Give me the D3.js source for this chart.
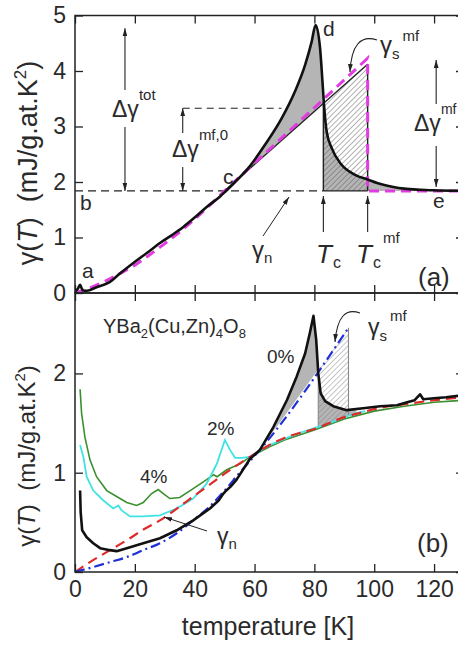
<!DOCTYPE html>
<html>
<head>
<meta charset="utf-8">
<script src="https://cdn.jsdelivr.net/npm/d3@7"></script>
<style>
body { margin: 0; background: #fff; }
text { font-family: Arial, "Liberation Sans", sans-serif; fill: #2a2a2a; }
</style>
</head>
<body>
<svg id="chart" width="458" height="645"></svg>
<script>
// ---- panel (a): schematic, measured gamma(T) of the 0% sample
var tA = [0, 1, 1.7, 2.5, 4, 7, 11.7, 15, 19.5, 24, 28.4, 32, 36.2, 40, 44, 48.5, 50.1, 53.5, 57.9, 63.5, 69.1, 73.5, 76.9, 79.1, 80.4, 81.9, 82.7, 83.3, 84.1, 85.8, 89.1, 93.6, 98, 101, 106.4, 110, 115.3, 120, 130];
var gA = [0.02, 0.08, 0.15, 0.05, 0.04, 0.1, 0.2, 0.35, 0.54, 0.72, 0.9, 1.03, 1.19, 1.36, 1.55, 1.74, 1.82, 2.0, 2.25, 2.67, 3.15, 3.63, 4.11, 4.53, 4.83, 4.41, 3.81, 3.33, 2.91, 2.61, 2.31, 2.13, 2.04, 1.98, 1.91, 1.88, 1.86, 1.85, 1.84];
// mean-field curve (magenta dashes)
var tPink = [0, 5, 10, 15, 20, 25, 30, 35, 40, 45, 50, 97.8, 97.8, 130];
var gPink = [0, 0.09, 0.21, 0.35, 0.5, 0.69, 0.89, 1.1, 1.33, 1.58, 1.84, 4.23, 1.84, 1.84];
// straight line from c to the mean-field jump
var tLine = [50, 97.8];
var gLine = [1.84, 4.12];
var gBase = 1.84, tcA = 83.0, tcMfA = 97.8;
var gTot = 4.77, gMf0 = 3.33, gMfTop = 4.2;

// ---- panel (b): YBa2(Cu,Zn)4O8
var t0 = [1.7, 1.9, 2.4, 3.9, 6.1, 8.4, 11.7, 13.9, 17.3, 22.8, 28.4, 34, 39.5, 45.1, 48, 49.6, 50.2, 52, 54, 58.5, 61.8, 66.3, 70.8, 74.1, 76.9, 78.5, 79.7, 80.6, 81.3, 82.1, 83.6, 86.3, 90.8, 96.3, 102, 107.6, 111, 113.5, 115.3, 116.4, 120, 124, 130];
var g0 = [0.82, 0.6, 0.42, 0.35, 0.29, 0.24, 0.22, 0.21, 0.24, 0.29, 0.34, 0.42, 0.52, 0.64, 0.72, 0.79, 0.81, 0.86, 0.93, 1.14, 1.23, 1.46, 1.73, 1.97, 2.2, 2.41, 2.58, 2.34, 2.0, 1.8, 1.72, 1.67, 1.63, 1.65, 1.67, 1.68, 1.71, 1.73, 1.79, 1.74, 1.75, 1.76, 1.78];
var t2 = [1.7, 2.8, 3.9, 6.1, 9.5, 12.8, 14.5, 15.6, 18.4, 22.8, 28.4, 34, 39.5, 44, 47.4, 50.1, 51.8, 53.5, 55.7, 58.5, 62, 66, 70, 74, 78, 82, 86, 90, 94, 97];
var g2 = [1.28, 1.16, 0.96, 0.82, 0.72, 0.64, 0.67, 0.62, 0.56, 0.56, 0.57, 0.64, 0.74, 0.89, 1.09, 1.33, 1.23, 1.15, 1.15, 1.16, 1.23, 1.29, 1.34, 1.39, 1.43, 1.47, 1.51, 1.56, 1.6, 1.62];
var t4 = [1.7, 2.2, 3.3, 5, 7.2, 10.6, 13.9, 17.3, 20.6, 22.8, 25.6, 27.8, 29.5, 31.7, 35, 39.5, 44, 46.3, 47.5, 50.7, 55.2, 58.5, 65, 70, 80, 90, 100, 110, 120, 130];
var g4 = [1.84, 1.6, 1.36, 1.13, 0.96, 0.82, 0.76, 0.7, 0.67, 0.7, 0.79, 0.83, 0.79, 0.74, 0.75, 0.84, 0.93, 0.98, 0.96, 1.03, 1.09, 1.16, 1.26, 1.33, 1.43, 1.54, 1.62, 1.67, 1.71, 1.73];
var tRed = [0, 5, 10, 17.3, 23, 29.5, 35, 39.5, 45, 50, 58.5, 65, 70, 75, 80, 85, 90, 95, 100, 105, 110, 120, 130];
var gRed = [0, 0.1, 0.19, 0.32, 0.43, 0.54, 0.66, 0.76, 0.88, 0.99, 1.16, 1.28, 1.35, 1.4, 1.44, 1.5, 1.56, 1.6, 1.64, 1.67, 1.69, 1.73, 1.76];
var tBlue = [0, 6.1, 11.7, 17.3, 22.8, 28.4, 34, 39.5, 45, 50, 55, 61.8, 91.4];
var gBlue = [0, 0.05, 0.1, 0.15, 0.22, 0.29, 0.39, 0.52, 0.66, 0.82, 1.0, 1.23, 2.46];
var tcB = 81.3, tcMfB = 91.4;

var xTicks = [0, 20, 40, 60, 80, 100, 120];
var yTicksA = [0, 1, 2, 3, 4, 5];
var yTicksB = [0, 1, 2];

// ---- scales
var x = d3.scaleLinear().domain([0, 130]).range([75, 464]);
var yA = d3.scaleLinear().domain([0, 5]).range([293, 15.5]);
var yB = d3.scaleLinear().domain([0, 2.81]).range([572, 293]);

function interp(ts, gs, t) {
  for (var i = 1; i < ts.length; i++) {
    if (t <= ts[i]) {
      var f = (t - ts[i - 1]) / (ts[i] - ts[i - 1]);
      return gs[i - 1] + f * (gs[i] - gs[i - 1]);
    }
  }
  return gs[gs.length - 1];
}
function steps(a, b) {
  var r = [];
  for (var t = a; t < b; t += 0.1) r.push(t);
  r.push(b);
  return r;
}
function pairs(ts, gs) { return ts.map(function(t, i) { return [t, gs[i]]; }); }

var svg = d3.select("#chart");
var defs = svg.append("defs");
defs.append("marker").attr("id", "arr")
  .attr("viewBox", "0 0 10 6").attr("refX", 10).attr("refY", 3)
  .attr("markerWidth", 8).attr("markerHeight", 5).attr("markerUnits", "userSpaceOnUse")
  .attr("orient", "auto-start-reverse")
  .append("path").attr("d", "M0,0 L10,3 L0,6 z").attr("fill", "#222");
[["hatchA", "#555"], ["hatchB", "#808080"]].forEach(function(h) {
  defs.append("pattern").attr("id", h[0]).attr("patternUnits", "userSpaceOnUse")
    .attr("width", 3.8).attr("height", 3.8).attr("patternTransform", "rotate(45)")
    .append("line").attr("x1", 0).attr("y1", 0).attr("x2", 0).attr("y2", 3.8)
    .attr("stroke", h[1]).attr("stroke-width", 0.9);
});
defs.append("clipPath").attr("id", "clipA").append("rect")
  .attr("x", 75).attr("y", 15.5).attr("width", 389).attr("height", 277.5);
defs.append("clipPath").attr("id", "clipB").append("rect")
  .attr("x", 75).attr("y", 293).attr("width", 389).attr("height", 279);

function label(g, px, py, size, parts) {
  var t = g.append("text").attr("x", px).attr("y", py).style("font-size", size + "px");
  parts.forEach(function(p) {
    var s = t.append("tspan").text(p.t);
    if (p.dy) s.attr("dy", p.dy);
    if (p.dx) s.attr("dx", p.dx);
    if (p.fs) s.style("font-size", p.fs + "px");
    if (p.it) s.style("font-style", "italic");
  });
  return t;
}
function arrow(g, x1, y1, x2, y2, w) {
  return g.append("line").attr("x1", x1).attr("y1", y1).attr("x2", x2).attr("y2", y2)
    .attr("stroke", "#222").attr("stroke-width", w || 1.1).attr("marker-end", "url(#arr)");
}

// ================= panel (a) =================
var ga = svg.append("g").attr("clip-path", "url(#clipA)");
var lineFn = function(y) {
  return d3.line().x(function(d) { return x(d[0]); }).y(function(d) { return y(d[1]); });
};
var straight = function(t) { return interp(tLine, gLine, t); };
var blackA = function(t) { return interp(tA, gA, t); };

// grey areas between measured curve and reference
ga.append("path")
  .datum(steps(tLine[0], tcA))
  .attr("fill", "#b5b5b5")
  .attr("d", d3.area().x(function(t) { return x(t); })
    .y0(function(t) { return yA(straight(t)); })
    .y1(function(t) { return yA(Math.max(blackA(t), straight(t))); }));
ga.append("path")
  .datum(steps(tcA, 116))
  .attr("fill", "#b5b5b5")
  .attr("d", d3.area().x(function(t) { return x(t); })
    .y0(yA(gBase)).y1(function(t) { return yA(Math.min(blackA(t), straight(t))); }));
// hatched mean-field jump
ga.append("path")
  .datum(steps(tcA, tcMfA))
  .attr("fill", "url(#hatchA)")
  .attr("d", d3.area().x(function(t) { return x(t); })
    .y0(yA(gBase)).y1(function(t) { return yA(straight(t)); }));

// dashed baseline and Delta gamma mf,0 level
ga.append("line").attr("x1", x(0)).attr("x2", x(tcA)).attr("y1", yA(gBase)).attr("y2", yA(gBase))
  .attr("stroke", "#222").attr("stroke-width", 1.3).attr("stroke-dasharray", "8,5");
ga.append("line").attr("x1", x(tcA)).attr("x2", x(tcMfA)).attr("y1", yA(gBase)).attr("y2", yA(gBase))
  .attr("stroke", "#222").attr("stroke-width", 1.4);
ga.append("line").attr("x1", x(36)).attr("x2", x(69)).attr("y1", yA(gMf0)).attr("y2", yA(gMf0))
  .attr("stroke", "#222").attr("stroke-width", 1.1).attr("stroke-dasharray", "7,5");
// straight line and verticals
ga.append("path").datum(pairs(tLine, gLine)).attr("fill", "none")
  .attr("stroke", "#222").attr("stroke-width", 1.4).attr("d", lineFn(yA));
ga.append("line").attr("x1", x(tcA)).attr("x2", x(tcA)).attr("y1", yA(gBase)).attr("y2", yA(straight(tcA)))
  .attr("stroke", "#222").attr("stroke-width", 1.4);
ga.append("line").attr("x1", x(tcMfA)).attr("x2", x(tcMfA)).attr("y1", yA(gBase)).attr("y2", yA(straight(tcMfA)))
  .attr("stroke", "#222").attr("stroke-width", 1.4);
// magenta mean-field curve
ga.append("path").datum(pairs(tPink, gPink)).attr("fill", "none")
  .attr("stroke", "#e23be2").attr("stroke-width", 3).attr("stroke-dasharray", "10,6")
  .attr("d", lineFn(yA));
// measured curve
ga.append("path").datum(pairs(tA, gA)).attr("fill", "none")
  .attr("stroke", "#111").attr("stroke-width", 2.6).attr("stroke-linejoin", "round")
  .attr("d", lineFn(yA).curve(d3.curveMonotoneX));

// annotations (a)
var an = svg.append("g");
arrow(an, x(16.7), 90, x(16.7), yA(gTot));
arrow(an, x(16.7), 127, x(16.7), yA(gBase));
arrow(an, x(36), 133, x(36), yA(gMf0));
arrow(an, x(36), 167, x(36), yA(gBase));
arrow(an, x(120.7), 104, x(120.7), yA(gMfTop));
arrow(an, x(120.7), 146, x(120.7), yA(gBase) - 4);
arrow(an, x(tcA), 232, x(tcA), yA(gBase) + 5);
arrow(an, x(tcMfA), 232, x(tcMfA), yA(gBase) + 5);
arrow(an, 263, 236, 289, 197, 1);
an.append("path").attr("d", "M377,40 Q352,32 350,72").attr("fill", "none")
  .attr("stroke", "#222").attr("stroke-width", 1.1).attr("marker-end", "url(#arr)");

label(an, 112, 117, 23, [{t: "\u0394\u03b3"}, {t: "tot", fs: 15, dy: -17}]);
label(an, 172, 157, 23, [{t: "\u0394\u03b3"}, {t: "mf,0", fs: 15, dy: -17}]);
label(an, 414, 131, 23, [{t: "\u0394\u03b3"}, {t: "mf", fs: 14, dy: -17}]);
label(an, 82, 278, 21, [{t: "a"}]);
label(an, 80, 210, 21, [{t: "b"}]);
label(an, 223, 184, 21, [{t: "c"}]);
label(an, 323, 36, 21, [{t: "d"}]);
label(an, 433, 208, 21, [{t: "e"}]);
label(an, 252, 258, 24, [{t: "\u03b3"}, {t: "n", fs: 15, dy: 5}]);
label(an, 316, 263, 26, [{t: "T", it: true}, {t: "c", fs: 16, dy: 5, dx: 1}]);
label(an, 356, 263, 26, [{t: "T", it: true}, {t: "c", fs: 16, dy: 5, dx: 1}, {t: "mf", fs: 15, dy: -25, dx: 2}]);
label(an, 380, 53, 24, [{t: "\u03b3"}, {t: "s", fs: 15, dy: 6}, {t: "mf", fs: 15, dy: -18, dx: 3}]);
label(an, 418, 286, 26, [{t: "(a)"}]);

// ================= panel (b) =================
var gb = svg.append("g").attr("clip-path", "url(#clipB)");
var black0 = function(t) { return interp(t0, g0, t); };
var blue = function(t) { return interp(tBlue, gBlue, t); };
var red = function(t) { return interp(tRed, gRed, t); };

gb.append("path")
  .datum(steps(61.8, tcB))
  .attr("fill", "#b5b5b5")
  .attr("d", d3.area().x(function(t) { return x(t); })
    .y0(function(t) { return yB(blue(t)); })
    .y1(function(t) { return yB(Math.max(black0(t), blue(t))); }));
gb.append("path")
  .datum(steps(tcB, 94))
  .attr("fill", "#b5b5b5")
  .attr("d", d3.area().x(function(t) { return x(t); })
    .y0(function(t) { return yB(red(t)); })
    .y1(function(t) { return yB(Math.min(black0(t), blue(t))); }));
gb.append("path")
  .datum(steps(tcB, tcMfB))
  .attr("fill", "url(#hatchB)")
  .attr("d", d3.area().x(function(t) { return x(t); })
    .y0(function(t) { return yB(red(t)); })
    .y1(function(t) { return yB(blue(t)); }));
[tcB, tcMfB].forEach(function(t) {
  gb.append("line").attr("x1", x(t)).attr("x2", x(t)).attr("y1", yB(red(t))).attr("y2", yB(blue(t)))
    .attr("stroke", "#888").attr("stroke-width", 1.1);
});

gb.append("path").datum(pairs(t4, g4)).attr("fill", "none")
  .attr("stroke", "#3a8f2f").attr("stroke-width", 1.6).attr("d", lineFn(yB));
gb.append("path").datum(pairs(t2, g2)).attr("fill", "none")
  .attr("stroke", "#3fe3e3").attr("stroke-width", 1.8).attr("d", lineFn(yB));
gb.append("path").datum(pairs(tRed, gRed)).attr("fill", "none")
  .attr("stroke", "#e02a2a").attr("stroke-width", 2.2).attr("stroke-dasharray", "10,6")
  .attr("d", lineFn(yB).curve(d3.curveMonotoneX));
gb.append("path").datum(pairs(tBlue, gBlue)).attr("fill", "none")
  .attr("stroke", "#2030d8").attr("stroke-width", 2.2).attr("stroke-dasharray", "10,4,2,4")
  .attr("d", lineFn(yB).curve(d3.curveMonotoneX));
gb.append("path").datum(pairs(t0, g0)).attr("fill", "none")
  .attr("stroke", "#111").attr("stroke-width", 2.6).attr("stroke-linejoin", "round")
  .attr("d", lineFn(yB));

// annotations (b)
var bn = svg.append("g");
label(bn, 103, 333, 20, [{t: "YBa"}, {t: "2", fs: 13, dy: 5}, {t: "(Cu,Zn)", dy: -5},
  {t: "4", fs: 13, dy: 5}, {t: "O", dy: -5}, {t: "8", fs: 13, dy: 5}]);
label(bn, 140, 483, 19, [{t: "4%"}]);
label(bn, 207, 435, 19, [{t: "2%"}]);
label(bn, 267, 363, 19, [{t: "0%"}]);
label(bn, 217, 544, 23, [{t: "\u03b3"}, {t: "n", fs: 15, dy: 5}]);
arrow(bn, 207, 531, 164, 517, 1);
label(bn, 368, 335, 23, [{t: "\u03b3"}, {t: "s", fs: 15, dy: 6}, {t: "mf", fs: 15, dy: -20, dx: 3}]);
bn.append("path").attr("d", "M360,313 Q338,305 335,342").attr("fill", "none")
  .attr("stroke", "#222").attr("stroke-width", 1.1).attr("marker-end", "url(#arr)");
label(bn, 417, 552, 26, [{t: "(b)"}]);

// ================= axes and frames =================
function noDomain(sel) { sel.select(".domain").remove(); sel.selectAll("line").attr("stroke", "#222").attr("stroke-width", 1.3); }
function blank() { return ""; }
var fmt = d3.format("d");

svg.append("g").attr("transform", "translate(0," + yA(5) + ")")
  .call(d3.axisTop(x).tickValues(xTicks).tickSizeInner(-8).tickSizeOuter(0).tickFormat(blank)).call(noDomain);
svg.append("g").attr("transform", "translate(0,293)")
  .call(d3.axisBottom(x).tickValues(xTicks).tickSizeInner(-8).tickSizeOuter(0).tickFormat(blank)).call(noDomain);
svg.append("g").attr("transform", "translate(0,293)")
  .call(d3.axisTop(x).tickValues(xTicks).tickSizeInner(-8).tickSizeOuter(0).tickFormat(blank)).call(noDomain);
svg.append("g").attr("transform", "translate(0,572)")
  .call(d3.axisBottom(x).tickValues(xTicks).tickSizeInner(-8).tickSizeOuter(0).tickPadding(9).tickFormat(fmt)).call(noDomain);
svg.append("g").attr("transform", "translate(75,0)")
  .call(d3.axisLeft(yA).tickValues(yTicksA).tickSizeInner(-8).tickSizeOuter(0).tickPadding(9).tickFormat(fmt)).call(noDomain);
svg.append("g").attr("transform", "translate(75,0)")
  .call(d3.axisLeft(yB).tickValues(yTicksB).tickSizeInner(-8).tickSizeOuter(0).tickPadding(9).tickFormat(fmt)).call(noDomain);
svg.append("g").attr("transform", "translate(464,0)")
  .call(d3.axisRight(yA).tickValues(yTicksA).tickSizeInner(-8).tickSizeOuter(0).tickFormat(blank)).call(noDomain);
svg.append("g").attr("transform", "translate(464,0)")
  .call(d3.axisRight(yB).tickValues(yTicksB).tickSizeInner(-8).tickSizeOuter(0).tickFormat(blank)).call(noDomain);
svg.selectAll(".tick text").style("font-size", "23px").attr("fill", "#2a2a2a")
  .style("font-family", "Arial, 'Liberation Sans', sans-serif");

svg.append("rect").attr("x", 75).attr("y", yA(5)).attr("width", 389).attr("height", 293 - yA(5))
  .attr("fill", "none").attr("stroke", "#222").attr("stroke-width", 1.5);
svg.append("rect").attr("x", 75).attr("y", 293).attr("width", 389).attr("height", 279)
  .attr("fill", "none").attr("stroke", "#222").attr("stroke-width", 1.5);

// axis titles
function yTitle(px, py, size) {
  var t = svg.append("text").attr("transform", "translate(" + px + "," + py + ") rotate(-90)")
    .attr("text-anchor", "middle").style("font-size", size + "px");
  t.append("tspan").text("\u03b3(");
  t.append("tspan").text("T").style("font-style", "italic");
  t.append("tspan").text(")\u00a0\u00a0(mJ/g.at.K");
  t.append("tspan").text("2").style("font-size", Math.round(size * 0.62) + "px").attr("dy", -size * 0.4);
  t.append("tspan").text(")").attr("dy", size * 0.4);
}
yTitle(37, 163, 27);
yTitle(35, 456, 24);
svg.append("text").attr("x", 268).attr("y", 635).attr("text-anchor", "middle")
  .style("font-size", "25px").text("temperature [K]");
</script>
</body>
</html>
